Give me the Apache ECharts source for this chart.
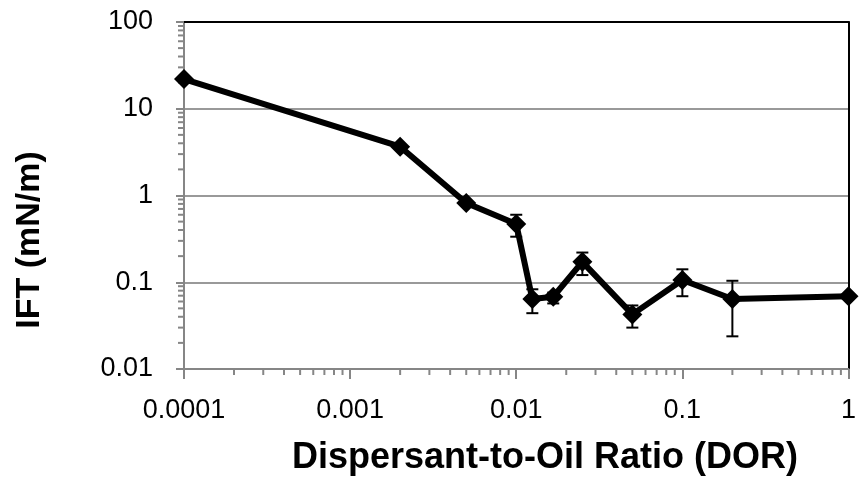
<!DOCTYPE html>
<html>
<head>
<meta charset="utf-8">
<script src="https://cdn.jsdelivr.net/npm/echarts@6/dist/echarts.min.js"></script>
<style>
  html, body { margin: 0; padding: 0; background: #fff; }
  #chart { width: 859px; height: 479px; }
</style>
</head>
<body>
<div id="chart"></div>
<script>
// Interfacial tension versus dispersant-to-oil ratio (log-log)
var dor = [0.0001, 0.002, 0.005, 0.01, 0.0125, 0.0167, 0.025, 0.05, 0.1, 0.2, 1];
var ift = [22, 3.65, 0.82, 0.47, 0.064, 0.068, 0.172, 0.0426, 0.106, 0.064, 0.069];

// Error bars: [DOR, lower, upper]
var errDor = [0.01, 0.0125, 0.0167, 0.025, 0.05, 0.1, 0.2];
var errLow = [0.335, 0.044, 0.057, 0.121, 0.030, 0.069, 0.0238];
var errHigh = [0.60, 0.083, 0.076, 0.22, 0.054, 0.141, 0.104];

// Axis ranges and tick labels
var xRange = [0.0001, 1];
var yRange = [0.01, 100];
var xTickLabels = ['0.0001', '0.001', '0.01', '0.1', '1'];
var yTickLabels = ['0.01', '0.1', '1', '10', '100'];
var minorSteps = [2, 3, 4, 5, 6, 7, 8, 9];

var xTitle = 'Dispersant-to-Oil Ratio (DOR)';
var yTitle = 'IFT (mN/m)';

function decadeMinors(lo, hi) {
  var out = [];
  for (var d = lo; d < hi * 0.999; d *= 10) {
    minorSteps.forEach(function (m) { out.push(+(d * m).toPrecision(6)); });
  }
  return out;
}
var xMinor = decadeMinors(xRange[0], xRange[1]);
var yMinor = decadeMinors(yRange[0], yRange[1]);

var lineData = dor.map(function (d, i) { return [d, ift[i]]; });
var errData = errDor.map(function (d, i) { return [d, errLow[i], errHigh[i]]; });

var axisGray = '#868686';
var labelFont = '"Liberation Sans", Arial, sans-serif';

function labelFrom(list, base) {
  return function (v) {
    var idx = Math.round(Math.log10(v) - Math.log10(base));
    return list[idx] !== undefined ? list[idx] : '';
  };
}

var chart = echarts.init(document.getElementById('chart'), null, { renderer: 'canvas' });

chart.setOption({
  animation: false,
  backgroundColor: '#fff',
  grid: { left: 184, right: 8, top: 22, bottom: 110, containLabel: false },
  xAxis: [{
    type: 'log', logBase: 10, min: xRange[0], max: xRange[1],
    position: 'bottom',
    axisLine: { show: true, onZero: false, lineStyle: { color: axisGray, width: 2 } },
    axisTick: { show: true, length: 10, lineStyle: { color: axisGray, width: 2 } },
    axisLabel: { color: '#000', fontFamily: labelFont, fontSize: 27, margin: 28,
                 formatter: labelFrom(xTickLabels, xRange[0]) },
    splitLine: { show: false }
  }, {
    type: 'log', logBase: 10, min: xRange[0], max: xRange[1],
    position: 'top',
    axisLine: { show: true, onZero: false, lineStyle: { color: '#000', width: 2 } },
    axisTick: { show: false }, axisLabel: { show: false }, splitLine: { show: false }
  }],
  yAxis: [{
    type: 'log', logBase: 10, min: yRange[0], max: yRange[1],
    position: 'left',
    axisLine: { show: true, onZero: false, lineStyle: { color: axisGray, width: 2 } },
    axisTick: { show: true, length: 8, lineStyle: { color: axisGray, width: 2 } },
    axisLabel: { color: '#000', fontFamily: labelFont, fontSize: 27, margin: 31,
                 formatter: labelFrom(yTickLabels, yRange[0]) },
    splitLine: { show: true, lineStyle: { color: '#999', width: 2 } }
  }, {
    type: 'log', logBase: 10, min: yRange[0], max: yRange[1],
    position: 'right',
    axisLine: { show: true, onZero: false, lineStyle: { color: '#000', width: 2 } },
    axisTick: { show: false }, axisLabel: { show: false }, splitLine: { show: false }
  }],
  graphic: [{
    type: 'text', x: 545, y: 458,
    style: { text: xTitle, x: 0, y: 0, align: 'center', verticalAlign: 'middle',
             font: 'bold 36px ' + labelFont, fill: '#000' }
  }, {
    type: 'text', x: 30, y: 240, rotation: Math.PI / 2,
    style: { text: yTitle, x: 0, y: 0, align: 'center', verticalAlign: 'middle',
             font: 'bold 34px ' + labelFont, fill: '#000' }
  }],
  series: [{
    // minor ticks along the x axis
    type: 'custom', xAxisIndex: 0, yAxisIndex: 0, silent: true, clip: false,
    data: xMinor.map(function (v) { return [v, yRange[0]]; }),
    renderItem: function (params, api) {
      var p = api.coord([api.value(0), api.value(1)]);
      return { type: 'line', shape: { x1: p[0], y1: p[1], x2: p[0], y2: p[1] + 6 },
               style: { stroke: axisGray, lineWidth: 2 } };
    },
    z: 1
  }, {
    // minor ticks along the y axis
    type: 'custom', xAxisIndex: 0, yAxisIndex: 0, silent: true, clip: false,
    data: yMinor.map(function (v) { return [xRange[0], v]; }),
    renderItem: function (params, api) {
      var p = api.coord([api.value(0), api.value(1)]);
      return { type: 'line', shape: { x1: p[0] - 6, y1: p[1], x2: p[0], y2: p[1] },
               style: { stroke: axisGray, lineWidth: 2 } };
    },
    z: 1
  }, {
    // error bars with caps
    type: 'custom', xAxisIndex: 0, yAxisIndex: 0, silent: true, clip: false,
    data: errData,
    renderItem: function (params, api) {
      var lo = api.coord([api.value(0), api.value(1)]);
      var hi = api.coord([api.value(0), api.value(2)]);
      var w = 6;
      var st = { stroke: '#000', lineWidth: 2 };
      return { type: 'group', children: [
        { type: 'line', shape: { x1: lo[0], y1: lo[1], x2: hi[0], y2: hi[1] }, style: st },
        { type: 'line', shape: { x1: lo[0] - w, y1: lo[1], x2: lo[0] + w, y2: lo[1] }, style: st },
        { type: 'line', shape: { x1: hi[0] - w, y1: hi[1], x2: hi[0] + w, y2: hi[1] }, style: st }
      ] };
    },
    z: 3
  }, {
    name: 'IFT', type: 'line', xAxisIndex: 0, yAxisIndex: 0,
    data: lineData,
    clip: false,
    lineStyle: { color: '#000', width: 6 },
    itemStyle: { color: '#000' },
    symbol: 'diamond', symbolSize: 20,
    z: 4
  }]
});
</script>
</body>
</html>
